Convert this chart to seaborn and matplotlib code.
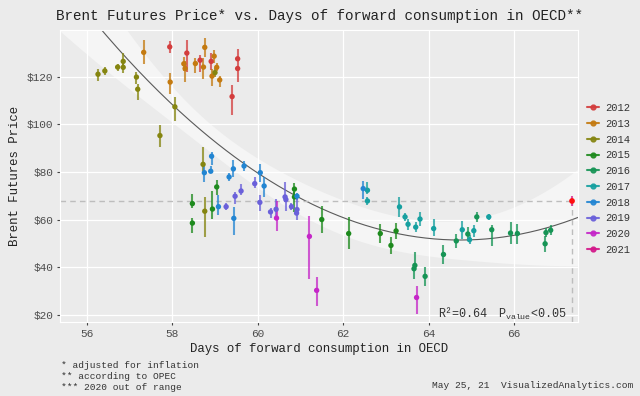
import numpy as np
import pandas as pd
import matplotlib
matplotlib.use("Agg")
import matplotlib.pyplot as plt
import seaborn as sns
from matplotlib.lines import Line2D

# ---------------- data ----------------
year = ([2012] * 7 + [2013] * 11 + [2014] * 12 + [2015] * 11 + [2016] * 13
        + [2017] * 12 + [2018] * 12 + [2019] * 12 + [2020] * 4 + [2021] * 1)

days = [57.94, 58.34, 58.65, 58.91, 59.40, 59.53, 59.53,
        57.33, 57.95, 58.27, 58.30, 58.54, 58.73, 58.76, 58.93, 58.98, 59.04, 59.11,
        56.26, 56.42, 56.72, 56.85, 56.85, 57.16, 57.19, 57.71, 58.06, 58.72, 58.76, 59.00,
        58.47, 58.47, 58.94, 59.04, 60.86, 60.86, 61.50, 62.13, 62.87, 63.12, 63.24,
        63.66, 63.68, 63.92, 64.35, 64.65, 64.92, 65.13, 65.48, 65.92, 66.08, 66.73, 66.75, 66.86,
        62.57, 62.57, 63.32, 63.45, 63.52, 63.70, 63.80, 64.12, 64.79, 64.96, 65.06, 65.41,
        58.75, 58.92, 58.90, 59.08, 59.33, 59.43, 59.44, 59.68, 60.06, 60.15, 60.92, 62.47,
        59.26, 59.47, 59.61, 59.93, 60.05, 60.30, 60.43, 60.64, 60.66, 60.79, 60.92, 60.91,
        60.44, 61.21, 61.38, 63.72,
        67.36]

price = [132.6, 130.0, 127.0, 126.5, 111.7, 127.6, 123.5,
         130.3, 117.8, 125.5, 123.5, 125.6, 124.1, 132.4, 120.3, 128.7, 124.0, 118.7,
         121.1, 122.5, 124.1, 124.0, 126.5, 119.9, 114.8, 95.3, 107.4, 83.2, 63.5, 121.8,
         66.7, 58.5, 64.4, 73.7, 72.8, 69.5, 60.0, 54.1, 54.1, 49.1, 55.2,
         39.3, 40.7, 36.1, 45.3, 51.0, 53.9, 61.1, 55.7, 54.3, 54.1, 49.8, 54.5, 55.5,
         72.3, 67.8, 65.3, 61.1, 58.0, 56.8, 60.2, 56.2, 55.7, 51.5, 55.3, 61.1,
         79.7, 86.6, 80.3, 65.4, 77.9, 81.3, 60.5, 82.5, 79.7, 74.1, 69.8, 73.0,
         65.4, 69.8, 72.0, 75.1, 67.2, 63.2, 64.3, 69.5, 68.4, 65.4, 64.2, 62.7,
         60.6, 52.9, 30.2, 27.2,
         67.8]

err_low = [2.4, 8, 5, 3.5, 7.9, 2, 5.6,
           5, 5, 3, 5.6, 4, 4.8, 3.9, 4, 3, 1.7, 3,
           2.8, 1.8, 1.7, 2.2, 1.5, 2.7, 4.6, 5, 6, 3, 10.8, 2,
           2, 4.2, 4, 3.5, 2, 6.3, 5.6, 6.3, 4, 3.4, 3.5,
           4.5, 2, 4, 3.8, 3, 3, 2, 7, 4.6, 4.2, 3.3, 2, 2,
           1.5, 1.8, 4.2, 1.8, 2.2, 2, 3, 3.2, 3.7, 2, 2.5, 1.4,
           4, 3.6, 0.8, 3.6, 1.5, 3.4, 7, 2, 4, 4.6, 1.5, 4.5,
           1.5, 3.1, 1.8, 2, 3.5, 2.4, 4.5, 2, 5, 1.5, 2, 3,
           5.5, 18, 6.5, 7,
           2]

err_high = [2.4, 5.5, 2, 3.5, 4.8, 3.9, 2,
            5, 3.7, 3, 3, 2.5, 3.8, 3.9, 3.2, 2.5, 1.7, 1.5,
            2, 1.7, 1.5, 1.5, 3.4, 2.2, 2.4, 4.6, 4, 7.3, 6, 2,
            4.2, 2, 7.8, 2.8, 2.5, 2, 5.6, 6.8, 4, 3.4, 3.5,
            2, 5.5, 4, 3.8, 3, 3, 2, 2, 4.6, 4.2, 3.3, 2, 2,
            3.5, 1.5, 4.2, 1.8, 2.2, 2, 3, 4, 3.7, 2, 2.5, 1.4,
            4, 2, 2, 4.8, 1.5, 3.6, 4.8, 2.2, 3.5, 3.8, 1.5, 3,
            1.5, 1.8, 3, 2.8, 3, 1.5, 4.5, 6.3, 2, 1.5, 4.6, 2,
            7, 8.5, 5.5, 5,
            2]

legend_years = [2012, 2013, 2014, 2015, 2016, 2017, 2018, 2019, 2020, 2021]
year_colors = ["#D33D3D", "#C47A10", "#858510", "#1E8A1E", "#169455",
               "#16A0A0", "#2285D2", "#6A60DA", "#C526C8", "#D3178A"]
latest_color = "#FF1010"

x_ticks = [56, 58, 60, 62, 64, 66]
y_ticks = [20, 40, 60, 80, 100, 120]
y_tick_labels = ["$20", "$40", "$60", "$80", "$100", "$120"]

title = "Brent Futures Price* vs. Days of forward consumption in OECD**"
x_label = "Days of forward consumption in OECD"
y_label = "Brent Futures Price"
notes = ["* adjusted for inflation", "** according to OPEC", "*** 2020 out of range"]
credit = "May 25, 21  VisualizedAnalytics.com"
r2_text = "R\u00b2=0.64"
p_text = r"P$_{\mathregular{value}}$<0.05"

# ---------------- style ----------------
BG = "#EBEBEB"
sns.set_theme(style="darkgrid", rc={
    "axes.facecolor": BG, "figure.facecolor": BG,
    "grid.color": "white", "grid.linewidth": 0.9,
    "axes.edgecolor": "white", "axes.linewidth": 0.8,
})
plt.rcParams["font.family"] = ["Liberation Mono", "DejaVu Sans"]

df = pd.DataFrame(dict(year=year, days=days, price=price,
                       lo=np.array(price) - np.array(err_low),
                       hi=np.array(price) + np.array(err_high)))
palette = dict(zip(legend_years, year_colors))
df["color"] = df["year"].map(palette)

fig = plt.figure(figsize=(6.4, 3.96), dpi=100)
ax = fig.add_axes([60 / 640, 1 - 322 / 396, 518 / 640, 292 / 396])
xmin, xmax = 55.37, 67.5
ymin, ymax = 16.9, 139.7

# quadratic fit with confidence band
X = np.vander(df["days"].values, 3)
coef, *_ = np.linalg.lstsq(X, df["price"].values, rcond=None)
resid = df["price"].values - X @ coef
s2 = resid @ resid / (len(df) - 3)
cov = s2 * np.linalg.inv(X.T @ X)
xs = np.linspace(xmin, xmax, 300)
Xs = np.vander(xs, 3)
fit = Xs @ coef
se = np.sqrt(np.einsum("ij,jk,ik->i", Xs, cov, Xs))
band = 2.6 * se
ax.fill_between(xs, fit - band, fit + band, color="white", alpha=0.5, lw=0, zorder=1)
sns.lineplot(x=xs, y=fit, ax=ax, color="#5A5A5A", lw=0.8, zorder=2)

# reference lines to the latest point
last = df.iloc[-1]
ax.plot([xmin, last.days], [last.price, last.price], ls=(0, (4, 3)), color="#BDBDBD", lw=1.0, zorder=2)
ax.plot([last.days, last.days], [ymin, last.price], ls=(0, (4, 3)), color="#BDBDBD", lw=1.0, zorder=2)

# error bars + points
ax.vlines(df["days"], df["lo"], df["hi"], colors=df["color"], lw=1.5, alpha=0.75, zorder=3)
sns.scatterplot(data=df.iloc[:-1], x="days", y="price", hue="year", palette=palette,
                s=15, edgecolor="none", legend=False, ax=ax, zorder=4)
sns.scatterplot(data=df.iloc[-1:], x="days", y="price", color=latest_color,
                s=17, edgecolor="none", legend=False, ax=ax, zorder=5)

ax.set_xlim(xmin, xmax)
ax.set_ylim(ymin, ymax)
ax.set_xticks(x_ticks)
ax.set_yticks(y_ticks)
ax.set_yticklabels(y_tick_labels)
ax.tick_params(axis="both", length=2.5, width=0.8, color="#444444", pad=2.5,
               labelsize=8, labelcolor="#4D4D4D", bottom=True, left=True)
ax.set_xlabel(x_label, fontsize=8.9, color="#222222", labelpad=3)
ax.set_ylabel(y_label, fontsize=8.9, color="#222222", labelpad=4)
ax.set_title(title, fontsize=10.3, color="#222222", pad=7)
ax.grid(True)

# legend
handles = [Line2D([0], [0], color=c, lw=1.5, marker="o", markersize=3.5, alpha=0.9)
           for c in year_colors]
leg = ax.legend(handles, [str(y) for y in legend_years], loc="center left",
                bbox_to_anchor=(1.017, 0.49), frameon=False, fontsize=7.5,
                handlelength=1.2, handletextpad=0.6, labelspacing=0.55,
                borderpad=0, borderaxespad=0)
for t in leg.get_texts():
    t.set_color("#333333")

# annotations
fig.text(438 / 640, 1 - 314 / 396, r2_text, fontsize=8.5, va="center", color="#333333")
fig.text(567 / 640, 1 - 314 / 396, p_text, fontsize=8.5, va="center", ha="right", color="#333333")
for i, n in enumerate(notes):
    fig.text(61 / 640, 1 - (366 + 10.5 * i) / 396, n, fontsize=6.8, va="center", color="#333333")
fig.text(633 / 640, 1 - 386 / 396, credit, fontsize=6.8, va="center", ha="right", color="#333333")

fig.savefig("out.png", dpi=100, facecolor=BG)
